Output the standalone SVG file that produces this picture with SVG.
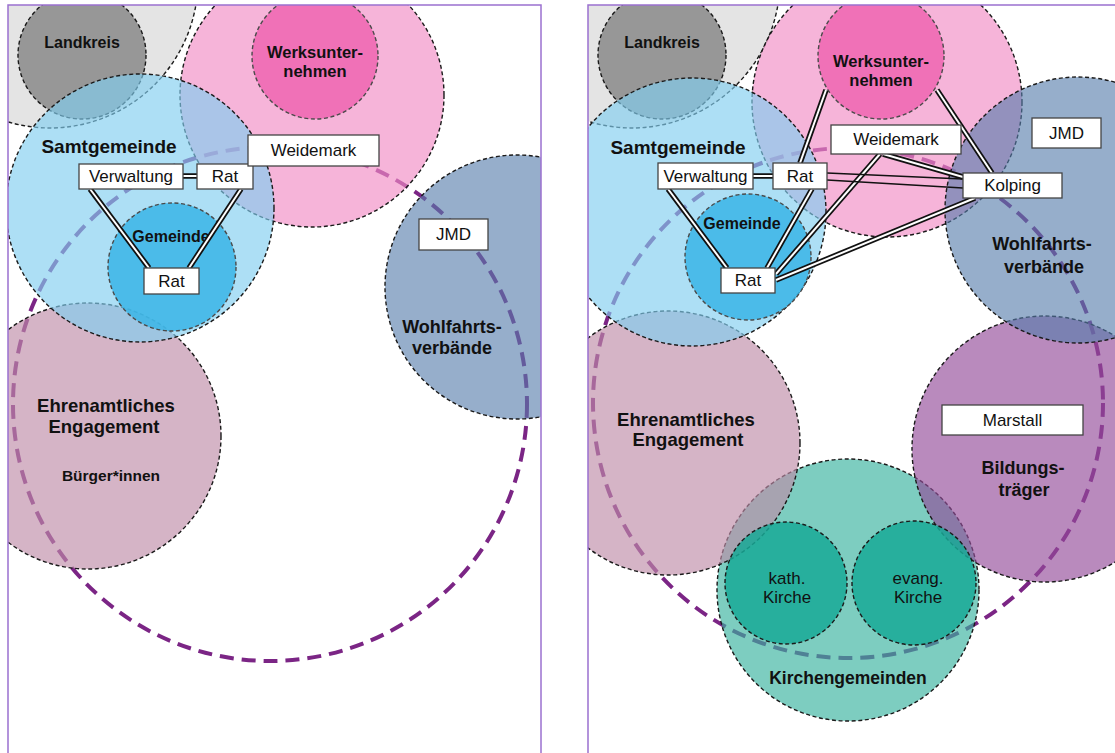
<svg xmlns="http://www.w3.org/2000/svg" width="1115" height="753" viewBox="0 0 1115 753">
<style>
.bg{fill:#fff}
.frame{fill:none;stroke:#9b70cf;stroke-width:1.5}
.pc{fill:none;stroke:#7b2585;stroke-width:4;stroke-dasharray:14 8}
.c{stroke:#1a1a1a;stroke-width:1.4;stroke-dasharray:4 2.6}
.cg{stroke:#4a4a4a;stroke-width:1.4;stroke-dasharray:4 2.6}
.lgray{fill:#e4e4e4}
.lk{fill:#979797}
.pink{fill:#f18cc5;fill-opacity:.65}
.werk{fill:#ef69b2;fill-opacity:.9}
.blue{fill:#81cef0;fill-opacity:.65}
.gem{fill:#3ab5e6;fill-opacity:.85}
.ehr{fill:#bf8ca8;fill-opacity:.65}
.wohl{fill:#567dab;fill-opacity:.62}
.bild{fill:#944b9a;fill-opacity:.65}
.kg{fill:#37b29e;fill-opacity:.65}
.ki{fill:#17a996;fill-opacity:.85}
.lb{font-family:"Liberation Sans",Arial,sans-serif;font-weight:bold;text-anchor:middle;dominant-baseline:central;fill:#111}
.tx{font-family:"Liberation Sans",Arial,sans-serif;font-size:17px;text-anchor:middle;dominant-baseline:central;fill:#111}
.box{fill:#fff;stroke:#444;stroke-width:1.3}
.dlo{fill:none;stroke:#111;stroke-width:5.5}
.dli{fill:none;stroke:#fff;stroke-width:2}
.sl{fill:none;stroke:#111;stroke-width:1.7}
</style>
<defs>
<clipPath id="clipL"><rect x="8" y="5" width="533" height="760"/></clipPath>
<clipPath id="clipR"><rect x="588" y="5" width="540" height="760"/></clipPath>
</defs>
<rect class="bg" x="0" y="0" width="1115" height="753"/>

<!-- LEFT PANEL -->
<g id="left-panel" clip-path="url(#clipL)">
  <g id="L-netz"><circle class="pc" cx="270" cy="404" r="257"/></g>
  <g id="L-kreis-outer"><circle class="lgray c" cx="50" cy="-20" r="148"/></g>
  <g id="L-landkreis"><circle class="lk c" cx="82" cy="55" r="64"/></g>
  <g id="L-ehrenamt"><circle class="ehr c" cx="88" cy="436" r="133"/></g>
  <g id="L-pink"><circle class="pink c" cx="312" cy="95" r="132"/></g>
  <g id="L-werk"><circle class="werk cg" cx="315" cy="56" r="63"/></g>
  <g id="L-wohlfahrt"><circle class="wohl c" cx="517" cy="287" r="132"/></g>
  <g id="L-samtgemeinde"><circle class="blue c" cx="140" cy="208" r="134"/></g>
  <g id="L-gemeinde"><circle class="gem cg" cx="172" cy="267" r="64"/></g>
  <g id="L-labels">
    <text class="lb" x="82" y="42" font-size="16">Landkreis</text>
    <text class="lb" x="315" y="52" font-size="16.5">Werksunter-</text>
    <text class="lb" x="315" y="71" font-size="16.5">nehmen</text>
    <text class="lb" x="109" y="146" font-size="19">Samtgemeinde</text>
    <text class="lb" x="171" y="236" font-size="16">Gemeinde</text>
    <text class="lb" x="452" y="327" font-size="18">Wohlfahrts-</text>
    <text class="lb" x="452" y="348" font-size="18">verbände</text>
    <text class="lb" x="106" y="405" font-size="18.5">Ehrenamtliches</text>
    <text class="lb" x="104" y="426" font-size="18.5">Engagement</text>
    <text class="lb" x="111" y="475" font-size="15.5">Bürger*innen</text>
  </g>
</g>

<g id="L-connectors">
  <g class="dlo">
    <path d="M183,176 L197,176"/>
    <path d="M90,189 L149,268"/>
    <path d="M241,189 L189,268"/>
  </g>
  <g class="dli">
    <path d="M183,176 L197,176"/>
    <path d="M90,189 L149,268"/>
    <path d="M241,189 L189,268"/>
  </g>
</g>

<g id="L-box-verwaltung"><rect class="box" x="79" y="164" width="104" height="25"/><text class="tx" x="131" y="176.5">Verwaltung</text></g>
<g id="L-box-rat1"><rect class="box" x="197" y="164" width="56" height="25"/><text class="tx" x="225" y="176.5">Rat</text></g>
<g id="L-box-rat2"><rect class="box" x="144" y="268" width="55" height="26"/><text class="tx" x="171.5" y="281">Rat</text></g>
<g id="L-box-weidemark"><rect class="box" x="248" y="135" width="131" height="31"/><text class="tx" x="313.5" y="150.5">Weidemark</text></g>
<g id="L-box-jmd"><rect class="box" x="419" y="219" width="69" height="31"/><text class="tx" x="453.5" y="234.5">JMD</text></g>

<!-- RIGHT PANEL -->
<g id="right-panel" clip-path="url(#clipR)">
  <g id="R-netz"><circle class="pc" cx="848" cy="403" r="255"/></g>
  <g id="R-kreis-outer"><circle class="lgray c" cx="632" cy="-20" r="148"/></g>
  <g id="R-landkreis"><circle class="lk c" cx="662" cy="55" r="64"/></g>
  <g id="R-kirchengemeinden"><circle class="kg c" cx="848" cy="590" r="131"/></g>
  <g id="R-ehrenamt"><circle class="ehr c" cx="668" cy="443" r="132"/></g>
  <g id="R-pink"><circle class="pink c" cx="887" cy="102" r="135"/></g>
  <g id="R-werk"><circle class="werk cg" cx="881" cy="56" r="63"/></g>
  <g id="R-bildung"><circle class="bild c" cx="1045" cy="449" r="133"/></g>
  <g id="R-wohlfahrt"><circle class="wohl c" cx="1078" cy="210" r="133"/></g>
  <g id="R-samtgemeinde"><circle class="blue c" cx="692" cy="212" r="134"/></g>
  <g id="R-gemeinde"><circle class="gem cg" cx="748" cy="257" r="63"/></g>
  <g id="R-kath"><circle class="ki c" cx="786" cy="583" r="61"/></g>
  <g id="R-evang"><circle class="ki c" cx="914" cy="583" r="62"/></g>
  <g id="R-labels">
    <text class="lb" x="662" y="42" font-size="16">Landkreis</text>
    <text class="lb" x="881" y="61" font-size="16.5">Werksunter-</text>
    <text class="lb" x="881" y="80" font-size="16.5">nehmen</text>
    <text class="lb" x="678" y="147" font-size="19">Samtgemeinde</text>
    <text class="lb" x="742" y="223" font-size="16">Gemeinde</text>
    <text class="lb" x="1042" y="244" font-size="18">Wohlfahrts-</text>
    <text class="lb" x="1044" y="267" font-size="18">verbände</text>
    <text class="lb" x="686" y="419" font-size="18.5">Ehrenamtliches</text>
    <text class="lb" x="688" y="439" font-size="18.5">Engagement</text>
    <text class="lb" x="1023" y="468" font-size="18">Bildungs-</text>
    <text class="lb" x="1024" y="490" font-size="18">träger</text>
    <text class="lb" x="848" y="678" font-size="17.5">Kirchengemeinden</text>
    <text class="tx" x="787" y="578" font-size="16.5">kath.</text>
    <text class="tx" x="787" y="597" font-size="16.5">Kirche</text>
    <text class="tx" x="918" y="578" font-size="16.5">evang.</text>
    <text class="tx" x="918" y="597" font-size="16.5">Kirche</text>
  </g>
</g>

<g id="R-connectors">
  <g class="dlo">
    <path d="M752,176 L773,176"/>
    <path d="M668,189 L727,268"/>
    <path d="M812,189 L767,268"/>
    <path d="M826,90 L800,163"/>
    <path d="M937,90 L992,173"/>
    <path d="M880,154 L776,274"/>
    <path d="M883,154 L963,177"/>
    <path d="M975,198 L776,280"/>
  </g>
  <g class="dli">
    <path d="M752,176 L773,176"/>
    <path d="M668,189 L727,268"/>
    <path d="M812,189 L767,268"/>
    <path d="M826,90 L800,163"/>
    <path d="M937,90 L992,173"/>
    <path d="M880,154 L776,274"/>
    <path d="M883,154 L963,177"/>
    <path d="M975,198 L776,280"/>
  </g>
  <g class="sl">
    <path d="M827,173 L963,179"/>
    <path d="M827,180 L963,188"/>
  </g>
</g>

<g id="R-box-verwaltung"><rect class="box" x="658" y="163" width="95" height="26"/><text class="tx" x="705.5" y="176">Verwaltung</text></g>
<g id="R-box-rat1"><rect class="box" x="773" y="163" width="54" height="26"/><text class="tx" x="800" y="176">Rat</text></g>
<g id="R-box-rat2"><rect class="box" x="721" y="268" width="54" height="25"/><text class="tx" x="748" y="280.5">Rat</text></g>
<g id="R-box-weidemark"><rect class="box" x="831" y="125" width="130" height="29"/><text class="tx" x="896" y="139.5">Weidemark</text></g>
<g id="R-box-kolping"><rect class="box" x="963" y="173" width="99" height="25"/><text class="tx" x="1012.5" y="185.5">Kolping</text></g>
<g id="R-box-jmd"><rect class="box" x="1032" y="118" width="69" height="30"/><text class="tx" x="1066.5" y="133">JMD</text></g>
<g id="R-box-marstall"><rect class="box" x="942" y="405" width="141" height="30"/><text class="tx" x="1012.5" y="420">Marstall</text></g>

<g id="frames">
  <rect class="frame" x="8" y="5" width="533" height="760"/>
  <rect class="frame" x="588" y="5" width="540" height="760"/>
</g>
</svg>
